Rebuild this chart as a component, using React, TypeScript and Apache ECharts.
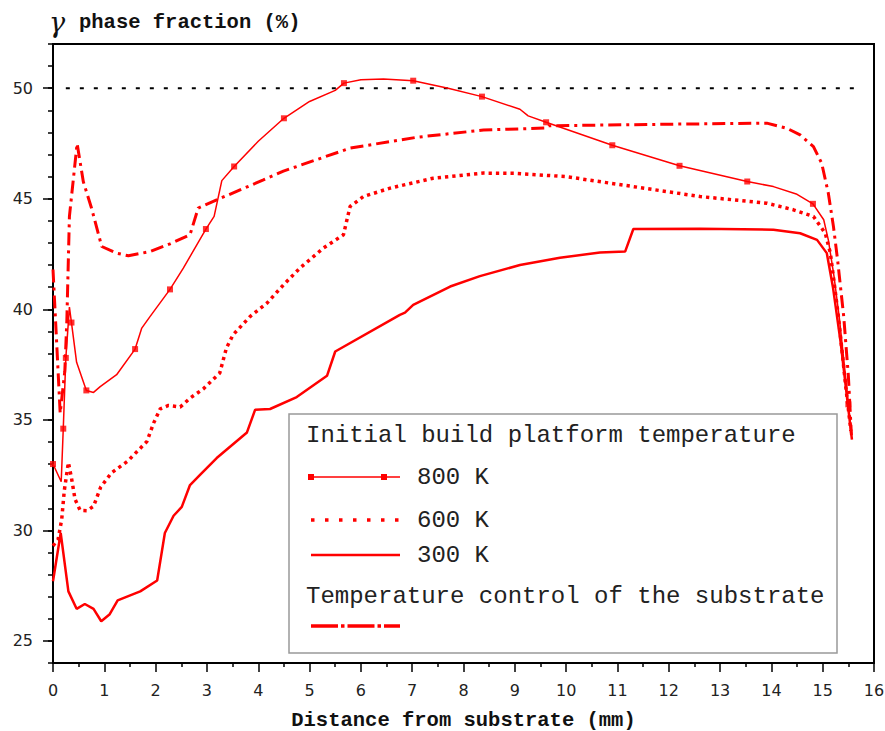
import React, { useEffect, useRef } from 'react';
import * as echarts from 'echarts';

// ---- data ----
const xMin = 0;
const xMax = 16;
const yMin = 24;
const yMax = 52;
const yMajorTicks = [25, 30, 35, 40, 45, 50];

const refLine50 = [[0.25, 50], [15.75, 50]];

const k800Line = [
  [0, 33.0], [0.16, 32.2], [0.2, 34.6], [0.25, 37.8], [0.32, 40.1], [0.36, 39.4], [0.46, 37.6],
  [0.65, 36.33], [0.79, 36.24], [0.92, 36.5], [1.24, 37.04], [1.6, 38.2], [1.73, 39.15], [1.89, 39.67],
  [2.28, 40.9], [2.54, 41.86], [2.98, 43.63], [3.14, 44.2], [3.29, 45.82], [3.53, 46.46], [4.0, 47.6],
  [4.5, 48.64], [5.0, 49.4], [5.5, 49.9], [5.67, 50.23], [6.0, 50.38], [6.44, 50.42], [7.02, 50.34],
  [7.7, 50.0], [8.36, 49.62], [9.1, 49.05], [9.26, 48.75], [9.61, 48.46], [10.9, 47.42], [12.21, 46.49],
  [13.53, 45.78], [14.04, 45.55], [14.5, 45.2], [14.81, 44.77], [15.02, 44.05], [15.11, 43.14],
  [15.22, 41.5], [15.33, 39.5], [15.43, 37.3], [15.5, 35.7], [15.55, 34.6],
];
const k800Markers = [
  [0, 33.0], [0.2, 34.6], [0.25, 37.8], [0.36, 39.4], [0.65, 36.33], [1.6, 38.2], [2.28, 40.9],
  [2.98, 43.63], [3.53, 46.46], [4.5, 48.64], [5.67, 50.23], [7.02, 50.34], [8.36, 49.62],
  [9.61, 48.46], [10.9, 47.42], [12.21, 46.49], [13.53, 45.78], [14.81, 44.77], [15.5, 35.7],
];
const k600Line = [
  [0, 29.3], [0.1, 29.6], [0.17, 30.5], [0.22, 31.8], [0.3, 33.07], [0.36, 32.37], [0.43, 31.4],
  [0.53, 30.9], [0.66, 30.89], [0.79, 31.09], [0.93, 31.96], [1.14, 32.6], [1.45, 33.12], [1.83, 34.02],
  [1.96, 34.85], [2.09, 35.5], [2.25, 35.65], [2.48, 35.58], [2.67, 35.98], [2.93, 36.4], [3.25, 37.12],
  [3.38, 38.25], [3.51, 38.85], [3.84, 39.67], [4.17, 40.28], [4.49, 41.1], [4.81, 41.86], [5.27, 42.77],
  [5.66, 43.37], [5.79, 44.65], [6.05, 45.1], [6.57, 45.48], [7.41, 45.93], [8.39, 46.16], [9.0, 46.15],
  [10.0, 46.0], [11.31, 45.55], [12.61, 45.1], [13.91, 44.8], [14.43, 44.5], [14.82, 44.2],
  [15.05, 43.44], [15.15, 42.54], [15.3, 39.8], [15.45, 36.5], [15.55, 34.5],
];
const k300Line = [
  [0, 27.7], [0.15, 29.88], [0.3, 27.24], [0.46, 26.45], [0.62, 26.67], [0.79, 26.45], [0.94, 25.89],
  [1.1, 26.19], [1.26, 26.83], [1.7, 27.24], [2.03, 27.73], [2.18, 29.88], [2.35, 30.66], [2.51, 31.06],
  [2.67, 32.05], [2.87, 32.52], [3.19, 33.27], [3.78, 34.43], [3.94, 35.46], [4.23, 35.49], [4.75, 36.03],
  [5.34, 36.99], [5.5, 38.09], [6.76, 39.75], [6.86, 39.85], [7.02, 40.2], [7.74, 41.03], [8.32, 41.5],
  [9.1, 42.0], [9.88, 42.33], [10.66, 42.57], [11.15, 42.61], [11.31, 43.63], [12.61, 43.64],
  [14.04, 43.6], [14.56, 43.44], [14.89, 43.14], [15.08, 42.54], [15.2, 41.0], [15.35, 38.5],
  [15.5, 35.5], [15.57, 34.1],
];
const substrateLine = [
  [0, 41.8], [0.14, 35.3], [0.23, 37.2], [0.27, 39.5], [0.32, 44.2], [0.47, 47.5], [0.59, 45.78],
  [0.75, 44.58], [0.95, 42.84], [1.24, 42.54], [1.47, 42.42], [1.89, 42.61], [2.28, 42.96],
  [2.67, 43.37], [2.83, 44.58], [3.19, 44.95], [4.1, 45.85], [4.49, 46.25], [5.79, 47.29],
  [7.09, 47.78], [8.39, 48.11], [9.62, 48.2], [9.66, 48.3], [11.96, 48.37], [13.91, 48.42],
  [14.3, 48.19], [14.56, 47.89], [14.82, 47.36], [14.98, 46.61], [15.11, 45.25], [15.21, 43.74],
  [15.29, 42.24], [15.41, 39.67], [15.5, 37.0], [15.56, 34.3],
];

const legendHeading1 = 'Initial build platform temperature';
const legendHeading2 = 'Temperature control of the substrate';
const legendNames = ['800 K', '600 K', '300 K'];

const RED = '#ff0000';
const MONO = "'Liberation Mono', 'DejaVu Sans Mono', monospace";

export default function App() {
  const ref = useRef<HTMLDivElement>(null);
  useEffect(() => {
    if (!ref.current) return;
    const chart = echarts.init(ref.current, null, { renderer: 'svg' });
    const legendText = (text: string, x: number, y: number) => ({
      type: 'text',
      x,
      y,
      style: { text, fontFamily: MONO, fontSize: 24, fill: '#222', verticalAlign: 'middle', align: 'left' },
      z: 101,
    });
    chart.setOption({
      animation: false,
      backgroundColor: '#fff',
      grid: {
        left: 53, right: 11, top: 44, bottom: 68,
        outerBoundsMode: 'none', containLabel: false,
        show: true, borderColor: '#000', borderWidth: 2,
      },
      xAxis: {
        type: 'value',
        min: xMin,
        max: xMax,
        interval: 1,
        axisLine: { lineStyle: { color: '#000', width: 2 } },
        axisTick: { length: 9, lineStyle: { color: '#000', width: 1.5 } },
        minorTick: { show: true, splitNumber: 2, length: 4, lineStyle: { color: '#000', width: 1.5 } },
        splitLine: { show: false },
        minorSplitLine: { show: false },
        axisLabel: { fontSize: 16, fontFamily: 'DejaVu Sans', color: '#222', margin: 19 },
        name: 'Distance from substrate (mm)',
        nameLocation: 'middle',
        nameGap: 47,
        nameTextStyle: { fontFamily: MONO, fontWeight: 'bold', fontSize: 20.5, color: '#111' },
      },
      yAxis: [
        {
          type: 'value',
          position: 'left',
          min: yMin,
          max: yMax,
          interval: 1,
          axisLine: { show: true, lineStyle: { color: '#000', width: 2 } },
          axisTick: { length: 5, lineStyle: { color: '#000', width: 1.5 } },
          splitLine: { show: false },
          axisLabel: {
            fontSize: 16,
            fontFamily: 'DejaVu Sans',
            color: '#222',
            margin: 20,
            formatter: (v: number) => (yMajorTicks.indexOf(v) >= 0 ? String(v) : ''),
          },
          name: '{g|γ}{b|phase fraction (%)}',
          nameLocation: 'end',
          nameGap: 22,
          nameTextStyle: {
            align: 'left',
            verticalAlign: 'middle',
            padding: [0, 0, 0, -4],
            rich: {
              g: { fontFamily: "'DejaVu Serif'", fontStyle: 'italic', fontSize: 27, color: '#111', width: 30 },
              b: { fontFamily: MONO, fontWeight: 'bold', fontSize: 20.5, color: '#111' },
            },
          },
        },
        {
          type: 'value',
          position: 'left',
          min: yMin,
          max: yMax,
          axisLine: { show: false },
          axisTick: { show: true, customValues: yMajorTicks, length: 10, lineStyle: { color: '#000', width: 1.5 } },
          axisLabel: { show: false },
          splitLine: { show: false },
        },
      ],
      series: [
        {
          type: 'line',
          name: 'ref50',
          data: refLine50,
          symbol: 'none',
          silent: true,
          lineStyle: { color: '#000', width: 2, type: [4, 10] },
        },
        {
          type: 'line',
          name: legendNames[2],
          data: k300Line,
          symbol: 'none',
          lineStyle: { color: RED, width: 2.5 },
        },
        {
          type: 'line',
          name: legendNames[1],
          data: k600Line,
          symbol: 'none',
          lineStyle: { color: RED, width: 3.5, type: [3.3, 4] },
        },
        {
          type: 'line',
          name: legendNames[0],
          data: k800Line,
          symbol: 'none',
          lineStyle: { color: RED, width: 1.5 },
        },
        {
          type: 'scatter',
          name: legendNames[0] + ' markers',
          data: k800Markers,
          symbol: 'rect',
          symbolSize: 6,
          itemStyle: { color: RED },
        },
        {
          type: 'line',
          name: 'substrate',
          data: substrateLine,
          symbol: 'none',
          lineStyle: { color: RED, width: 3, type: [13, 5, 3, 5] },
        },
      ],
      graphic: [
        {
          type: 'rect',
          shape: { x: 289, y: 414, width: 548, height: 239 },
          style: { fill: '#fff', stroke: '#999', lineWidth: 1.5 },
          z: 100,
        },
        legendText(legendHeading1, 306, 435),
        {
          type: 'line',
          shape: { x1: 311, y1: 477, x2: 400, y2: 477 },
          style: { stroke: RED, lineWidth: 1.5 },
          z: 101,
        },
        { type: 'rect', shape: { x: 308, y: 474, width: 6, height: 6 }, style: { fill: RED }, z: 101 },
        { type: 'rect', shape: { x: 381, y: 474, width: 6, height: 6 }, style: { fill: RED }, z: 101 },
        legendText(legendNames[0], 417, 477),
        {
          type: 'line',
          shape: { x1: 311, y1: 520, x2: 400, y2: 520 },
          style: { stroke: RED, lineWidth: 3.5, lineDash: [3.5, 10.5] },
          z: 101,
        },
        legendText(legendNames[1], 417, 520),
        {
          type: 'line',
          shape: { x1: 311, y1: 555, x2: 400, y2: 555 },
          style: { stroke: RED, lineWidth: 2.5 },
          z: 101,
        },
        legendText(legendNames[2], 417, 555),
        legendText(legendHeading2, 306, 596),
        {
          type: 'line',
          shape: { x1: 311, y1: 626, x2: 400, y2: 626 },
          style: { stroke: RED, lineWidth: 3.5, lineDash: [27, 3, 3.5, 3] },
          z: 101,
        },
      ],
    });
    return () => chart.dispose();
  }, []);
  return <div ref={ref} style={{ position: 'absolute', left: 0, top: 0, width: 885, height: 731 }} />;
}
